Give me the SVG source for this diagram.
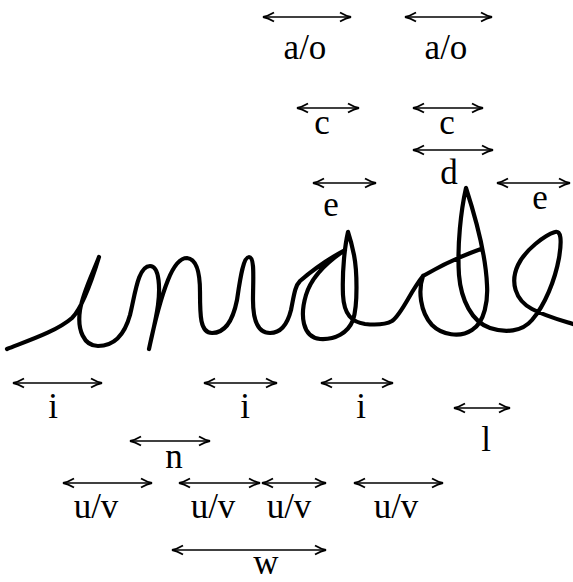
<svg xmlns="http://www.w3.org/2000/svg" width="573" height="582" viewBox="0 0 573 582">
<style>
.lbl{font-family:"Liberation Serif","Times New Roman",serif;font-size:35px;fill:#000;text-anchor:middle}
.arr{stroke:#000;stroke-width:1.6;fill:none;marker-start:url(#ah);marker-end:url(#ah)}
.ink{stroke:#000;stroke-width:4.2;fill:none;stroke-linecap:round;stroke-linejoin:round}
</style>
<defs>
<marker id="ah" markerUnits="userSpaceOnUse" viewBox="-13 -6 14 12" refX="0" refY="0" markerWidth="14" markerHeight="12" orient="auto-start-reverse">
<path d="M-11,-4.5 Q-5,-1 0,0 Q-5,1 -11,4.5" stroke="#000" stroke-width="1.8" fill="none"/>
</marker>
</defs>
<rect width="573" height="582" fill="#fff"/>
<g id="handwriting">
<path class="ink" d="M7,349 C30,340 57,331 72,318 C82,308 92,280 99,257 C93,273 83,292 80,310 C77,330 84,346 98,346 C115,346 125,333 130,315 C135,295 138,266 150,266 C160,266 160,290 158,305 C156,320 152,335 149,349 C153,330 160,300 168,280 C174,265 180,258 187,258 C197,259 200,275 200,292 C200,315 200,333 212,333 C225,333 233,320 237,300 C240,280 243,257 249,257 C255,257 253,280 253,300 C253,320 258,333 270,333 C282,333 288,322 291,310 C294,295 295,286 300,281 C315,268 332,257 345,250 C330,260 312,275 306,295 C300,315 302,337 320,339 C335,340 348,333 353,320 C358,305 357,270 354,255 C352,245 350,238 348,232 C345,245 342,270 343,295 C344,315 352,322 365,324 C375,325 385,325 392,321 C402,314 410,292 423,276 Q450,260 481,249 M423,276 C418,290 420,312 432,325 C442,335 460,338 472,330 C485,322 488,300 487,285 C486,260 478,225 466,188 C461,210 457,245 459,275 C461,300 472,322 490,328 C505,333 522,332 532,320 C545,305 555,280 559,258 C562,240 561,230 555,232 C545,235 525,250 518,265 C510,282 515,300 532,309 C545,316 560,320 573,324"/>
</g>
<g id="connectors">
<line class="arr" x1="263" y1="17" x2="351" y2="17"/>
<line class="arr" x1="405" y1="17" x2="492" y2="17"/>
<line class="arr" x1="297" y1="108" x2="359" y2="108"/>
<line class="arr" x1="413" y1="108" x2="483" y2="108"/>
<line class="arr" x1="413" y1="150" x2="493" y2="150"/>
<line class="arr" x1="313" y1="183" x2="376" y2="183"/>
<line class="arr" x1="497" y1="183" x2="570" y2="183"/>
<line class="arr" x1="13" y1="383" x2="102" y2="383"/>
<line class="arr" x1="204" y1="383" x2="277" y2="383"/>
<line class="arr" x1="321" y1="383" x2="393" y2="383"/>
<line class="arr" x1="454" y1="408" x2="510" y2="408"/>
<line class="arr" x1="130" y1="441" x2="210" y2="441"/>
<line class="arr" x1="63" y1="483" x2="152" y2="483"/>
<line class="arr" x1="179" y1="483" x2="260" y2="483"/>
<line class="arr" x1="262" y1="483" x2="326" y2="483"/>
<line class="arr" x1="354" y1="483" x2="443" y2="483"/>
<line class="arr" x1="172" y1="550" x2="326" y2="550"/>
</g>
<g id="label-ao-1"><text class="lbl" x="305" y="59">a/o</text></g>
<g id="label-ao-2"><text class="lbl" x="446" y="59">a/o</text></g>
<g id="label-c-1"><text class="lbl" x="322" y="134">c</text></g>
<g id="label-c-2"><text class="lbl" x="447" y="134">c</text></g>
<g id="label-d"><text class="lbl" x="449" y="184">d</text></g>
<g id="label-e-1"><text class="lbl" x="331" y="216">e</text></g>
<g id="label-e-2"><text class="lbl" x="540" y="209">e</text></g>
<g id="label-i-1"><text class="lbl" x="53" y="418">i</text></g>
<g id="label-i-2"><text class="lbl" x="245" y="418">i</text></g>
<g id="label-i-3"><text class="lbl" x="361" y="418">i</text></g>
<g id="label-l"><text class="lbl" x="486" y="451">l</text></g>
<g id="label-n"><text class="lbl" x="174" y="468">n</text></g>
<g id="label-uv-1"><text class="lbl" x="96" y="518">u/v</text></g>
<g id="label-uv-2"><text class="lbl" x="213" y="518">u/v</text></g>
<g id="label-uv-3"><text class="lbl" x="289" y="518">u/v</text></g>
<g id="label-uv-4"><text class="lbl" x="396" y="518">u/v</text></g>
<g id="label-w"><text class="lbl" x="266" y="574">w</text></g>
</svg>
